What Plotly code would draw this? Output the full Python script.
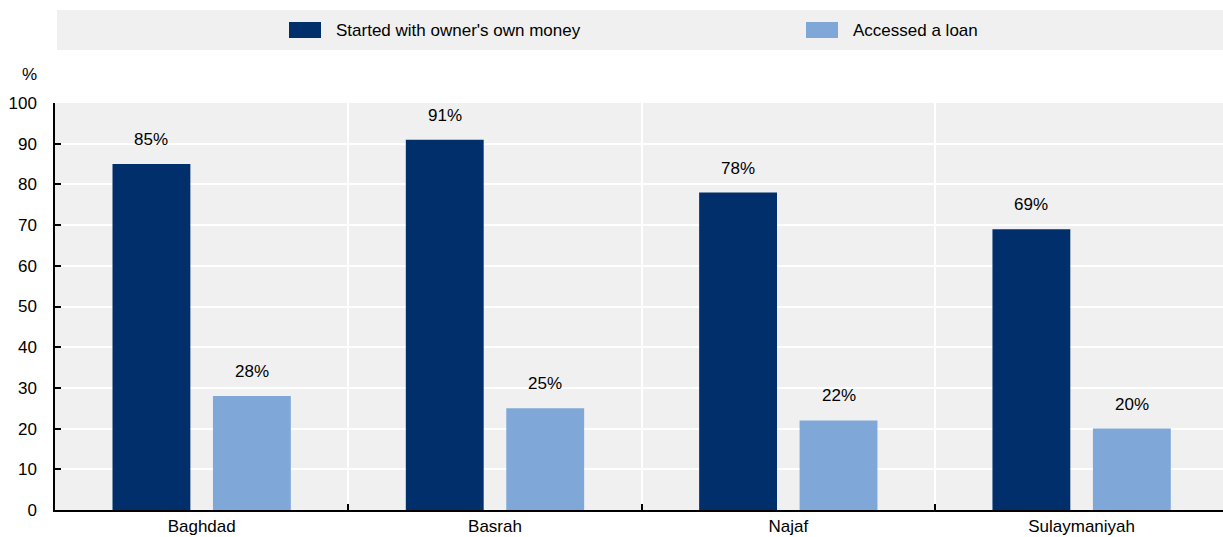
import plotly.graph_objects as go

# Data
cities = ["Baghdad", "Basrah", "Najaf", "Sulaymaniyah"]
own_money = [85, 91, 78, 69]
loan = [28, 25, 22, 20]
series_names = ["Started with owner's own money", "Accessed a loan"]
colors = ["#002F6C", "#7FA8D9"]

W, H = 1223, 537
M_L, M_R, M_T, M_B = 55, 0, 103, 27
PLOT_W = W - M_L - M_R
PLOT_H = H - M_T - M_B
X_RANGE = [-0.5, 3.482]          # last category runs slightly past the right edge
BARGAP = 0.315
BARGROUPGAP = 0.225
FONT = "Liberation Sans, Arial, sans-serif"
FS = 17


def px_x(px):
    return (px - M_L) / PLOT_W


def px_y(py):
    return (H - M_B - py) / PLOT_H


fig = go.Figure()
for name, vals, col in zip(series_names, [own_money, loan], colors):
    fig.add_trace(go.Bar(x=cities, y=vals, name=name, marker_color=col,
                         marker_line_width=0, showlegend=False))

# value labels above each bar
cat_px = PLOT_W / (X_RANGE[1] - X_RANGE[0])
slot = cat_px * (1 - BARGAP) / 2
annotations = []
for k, vals in enumerate([own_money, loan]):
    shift = (k - 0.5) * slot
    for c, v in zip(cities, vals):
        annotations.append(dict(x=c, y=v, xref="x", yref="y", text=f"{v}%",
                                showarrow=False, xshift=shift, yshift=13,
                                yanchor="bottom",
                                font=dict(family=FONT, size=FS, color="#000")))

# "%" unit label
annotations.append(dict(x=px_x(29), y=px_y(74), xref="paper", yref="paper",
                        text="%", showarrow=False, xanchor="center", yanchor="middle",
                        font=dict(family=FONT, size=FS, color="#000")))

# legend band
shapes = [dict(type="rect", xref="paper", yref="paper",
               x0=px_x(57), x1=px_x(1223), y0=px_y(50), y1=px_y(10),
               fillcolor="#F0F0F0", line_width=0, layer="below")]
legend_pos = [289, 806]
for name, col, lx in zip(series_names, colors, legend_pos):
    shapes.append(dict(type="rect", xref="paper", yref="paper",
                       x0=px_x(lx), x1=px_x(lx + 32), y0=px_y(38), y1=px_y(22),
                       fillcolor=col, line_width=0))
    annotations.append(dict(x=px_x(lx + 45), y=px_y(30), xref="paper", yref="paper",
                            text=name, showarrow=False, xanchor="left", yanchor="middle",
                            font=dict(family=FONT, size=FS, color="#000")))

fig.update_layout(
    width=W, height=H,
    margin=dict(l=M_L, r=M_R, t=M_T, b=M_B),
    paper_bgcolor="white", plot_bgcolor="#F0F0F0",
    barmode="group", bargap=BARGAP, bargroupgap=BARGROUPGAP,
    font=dict(family=FONT, size=FS, color="#000"),
    annotations=annotations, shapes=shapes,
    showlegend=False,
)
fig.update_xaxes(
    range=X_RANGE,
    tickson="boundaries", showgrid=True, gridcolor="white", gridwidth=2,
    ticks="inside", ticklen=6, tickcolor="#000", tickwidth=1.5,
    showline=True, linecolor="#000", linewidth=1.5,
    tickfont=dict(family=FONT, size=FS, color="#000"),
)
fig.update_yaxes(
    range=[0, 100], dtick=10, showgrid=True, gridcolor="white", gridwidth=2,
    ticks="inside", ticklen=6, tickcolor="#000", tickwidth=1.5,
    showline=True, linecolor="#000", linewidth=1.5, zeroline=False,
    ticklabelstandoff=13,
    tickfont=dict(family=FONT, size=FS, color="#000"),
)

fig.write_html("out.html")
